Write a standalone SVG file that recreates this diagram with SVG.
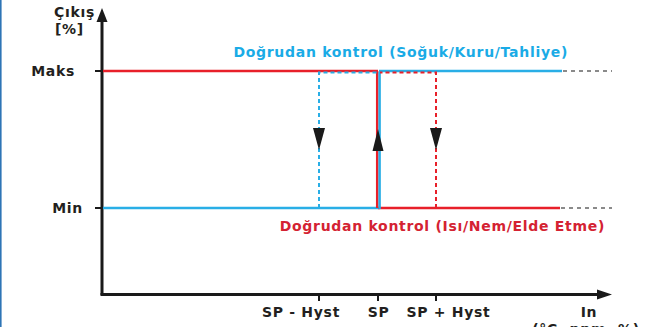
<svg xmlns="http://www.w3.org/2000/svg" width="653" height="327" viewBox="0 0 653 327">
<defs>
<style>
text{font-family:"DejaVu Sans","Verdana",sans-serif;font-weight:bold;font-size:14px;letter-spacing:0.7px;fill:#231f20}
.blue{fill:#1aabe6}
.red{fill:#d42232}
.axis{stroke:#1a1a1a;stroke-width:3;fill:none}
.tick{stroke:#1a1a1a;stroke-width:2;fill:none}
.rs{stroke:#e8202a;stroke-width:2.5;fill:none}
.bs{stroke:#29aee6;stroke-width:2.5;fill:none}
.rd{stroke:#e8202a;stroke-width:2;stroke-dasharray:4 3;fill:none}
.bd{stroke:#29aee6;stroke-width:2;stroke-dasharray:4 3;fill:none}
.gd{stroke:#8a8a8a;stroke-width:2;stroke-dasharray:4 4;fill:none}
.head{fill:#1a1a1a}
</style>
</defs>
<rect x="0" y="0" width="653" height="327" fill="#ffffff"/>
<line x1="0.8" y1="0" x2="0.8" y2="327" stroke="#2e75b6" stroke-width="1.6"/>
<g id="axes">
<line class="axis" x1="102" y1="20" x2="102" y2="295"/>
<polygon class="head" points="102,8 96.5,22 107.5,22"/>
<line class="axis" x1="100.5" y1="294.5" x2="600" y2="294.5"/>
<polygon class="head" points="612,294.5 597,289.5 597,299.5"/>
<line class="tick" x1="95" y1="71" x2="102" y2="71"/>
<line class="tick" x1="95" y1="208" x2="102" y2="208"/>
<line class="tick" x1="319" y1="294" x2="319" y2="301"/>
<line class="tick" x1="378" y1="294" x2="378" y2="301"/>
<line class="tick" x1="436" y1="294" x2="436" y2="301"/>
</g>
<g id="connectors">
<line class="gd" x1="563" y1="71" x2="612" y2="71"/>
<line class="gd" x1="561" y1="208" x2="612" y2="208"/>
<line class="rs" x1="103" y1="71" x2="378" y2="71"/>
<line class="bs" x1="379" y1="71" x2="562" y2="71"/>
<line class="bs" x1="103" y1="208" x2="380" y2="208"/>
<line class="rs" x1="378" y1="208" x2="560" y2="208"/>
<line class="rs" x1="377.2" y1="71" x2="377.2" y2="208"/>
<line class="bs" x1="379.6" y1="72" x2="379.6" y2="209"/>
<polyline class="bd" points="319,208 319,72.5 377,72.5"/>
<polyline class="rd" points="436,208 436,72.5 380,72.5"/>
<polygon class="head" points="319,150 313,128 325,128"/>
<polygon class="head" points="378,129 372.5,151 383.5,151"/>
<polygon class="head" points="436,150 430,128 442,128"/>
</g>
<g id="labels">
<text x="95" y="17" text-anchor="end">Çıkış</text>
<text x="55" y="34">[%]</text>
<text x="75" y="76" text-anchor="end">Maks</text>
<text x="83" y="213" text-anchor="end">Min</text>
<text class="blue" x="568" y="57" text-anchor="end">Doğrudan kontrol (Soğuk/Kuru/Tahliye)</text>
<text class="red" x="605" y="231" text-anchor="end">Doğrudan kontrol (Isı/Nem/Elde Etme)</text>
<text x="301" y="317" text-anchor="middle">SP - Hyst</text>
<text x="378.5" y="317" text-anchor="middle">SP</text>
<text x="448.5" y="317" text-anchor="middle">SP + Hyst</text>
<text x="589" y="317" text-anchor="middle">In</text>
<text x="586" y="334" text-anchor="middle">(°C, ppm, %)</text>
</g>
</svg>
